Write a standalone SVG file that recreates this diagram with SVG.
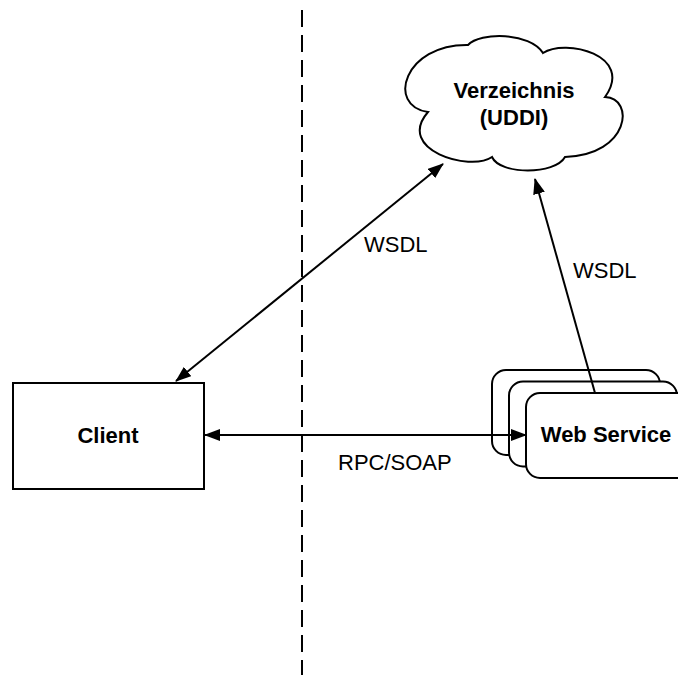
<svg xmlns="http://www.w3.org/2000/svg" width="678" height="675" viewBox="0 0 678 675">
  <style>
    .shape { fill: #ffffff; stroke: #000000; stroke-width: 2; }
    .title { font-family: "Liberation Sans", Arial, Helvetica, sans-serif; font-size: 22px; font-weight: bold; fill: #000000; text-anchor: middle; }
    .label { font-family: "Liberation Sans", Arial, Helvetica, sans-serif; font-size: 22px; fill: #000000; }
    .edge { fill: none; stroke: #000000; stroke-width: 2; }
    .divider { fill: none; stroke: #000000; stroke-width: 2; stroke-dasharray: 17 8; }
  </style>
  <defs>
    <marker id="arrow" viewBox="0 0 16 12" refX="15" refY="6" markerWidth="16" markerHeight="12" markerUnits="userSpaceOnUse" orient="auto-start-reverse">
      <path d="M0,0 L16,6 L0,12 Z" fill="#000000"/>
    </marker>
  </defs>

  <rect width="678" height="675" fill="#ffffff"/>

  <!-- network boundary -->
  <line class="divider" x1="302" y1="10" x2="302" y2="675"/>

  <!-- registry -->
  <g id="verzeichnis">
    <path class="shape" d="M428,112 C386,106 404,44 468,45 C480,32 530,32 543,53 C565,38 635,55 605,97 C635,98 630,155 565,157 C555,175 500,175 492,157 C470,172 395,150 428,112 Z"/>
    <text class="title" x="514" y="98">Verzeichnis</text>
    <text class="title" x="514" y="125">(UDDI)</text>
  </g>

  <!-- client -->
  <g id="client">
    <rect class="shape" x="13" y="383" width="191" height="106"/>
    <text class="title" x="108" y="443">Client</text>
  </g>

  <!-- stacked service instances -->
  <g id="web-service">
    <rect class="shape" x="492" y="370" width="168" height="85" rx="14" ry="14"/>
    <rect class="shape" x="509" y="381.5" width="168" height="85" rx="14" ry="14"/>
    <rect class="shape" x="526" y="393" width="168" height="85" rx="14" ry="14"/>
    <text class="title" x="606" y="442">Web Service</text>
  </g>

  <!-- connectors -->
  <g id="connectors">
    <line class="edge" x1="176" y1="381" x2="443" y2="164" marker-start="url(#arrow)" marker-end="url(#arrow)"/>
    <line class="edge" x1="595" y1="393" x2="535" y2="179" marker-end="url(#arrow)"/>
    <line class="edge" x1="205" y1="435" x2="526" y2="435" marker-start="url(#arrow)" marker-end="url(#arrow)"/>
    <text class="label" x="364" y="252">WSDL</text>
    <text class="label" x="573" y="278">WSDL</text>
    <text class="label" x="338" y="470">RPC/SOAP</text>
  </g>
</svg>
